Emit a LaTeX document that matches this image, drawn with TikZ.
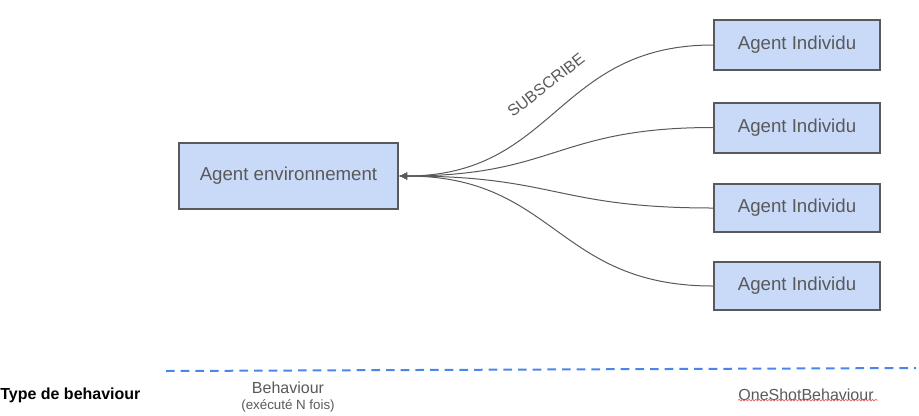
\documentclass[tikz,border=0pt]{standalone}
\usepackage{fontspec}
\setmainfont{Liberation Sans}
\usetikzlibrary{arrows.meta,decorations.pathmorphing}
\definecolor{boxfill}{HTML}{C9DAF8}
\definecolor{boxline}{HTML}{595959}
\definecolor{linkblue}{HTML}{4A86E8}
\definecolor{spellred}{HTML}{E06666}
\tikzset{
  agent/.style={draw=boxline,line width=1.5pt,fill=boxfill,text=boxline,
    minimum height=37.5pt,minimum width=124.5pt,inner sep=0pt,font=\fontsize{14}{16}\selectfont},
  link/.style={draw=boxline,line width=0.75pt,-{Latex[length=6pt,width=5.5pt]}},
  label/.style={text=boxline,inner sep=0pt}
}
\begin{document}
\begin{tikzpicture}[x=0.75pt,y=-0.75pt]
		\useasboundingbox (0,0) rectangle (919,415);
		\node[agent,minimum width=164.25pt,minimum height=49.5pt] (env) at (288.5,176) {Agent environnement};
		\node[agent] (ind1) at (797,45)    {Agent Individu};
		\node[agent] (ind2) at (797,127.5) {Agent Individu};
		\node[agent,minimum height=36pt] (ind3) at (797,208) {Agent Individu};
		\node[agent,minimum height=36pt] (ind4) at (797,286) {Agent Individu};
		\foreach \i in {1,...,4}
			\draw[link] (ind\i.west) .. controls +(-157,0) and +(157,0) .. (env.east);
		\node[label,rotate=38,font=\fontsize{12}{14}\selectfont] (sub) at (546,85) {SUBSCRIBE};
		% ligne de separation
		\coordinate (sepA) at (166,371);
		\coordinate (sepB) at (916,368);
		\draw[linkblue,line width=1.5pt,dash pattern=on 6.5pt off 4.5pt] (sepA)--(sepB);
		\node[anchor=west,inner sep=0pt,font=\bfseries\fontsize{12}{14}\selectfont] (type) at (0,395) {Type de behaviour};
		\node[label,font=\fontsize{12}{14}\selectfont] (beh) at (288,388) {Behaviour};
		\node[label,font=\fontsize{10}{12}\selectfont] (behN) at (288,406) {(exécuté N fois)};
		\node[label,font=\fontsize{12}{14}\selectfont] (oneshot) at (806,395) {OneShotBehaviour};
		\draw[spellred,line width=0.5pt,decorate,decoration={snake,amplitude=0.6pt,segment length=2.5pt}]
			(oneshot.south west)++(0,-1) -- ++(140,0);
\end{tikzpicture}
\end{document}
